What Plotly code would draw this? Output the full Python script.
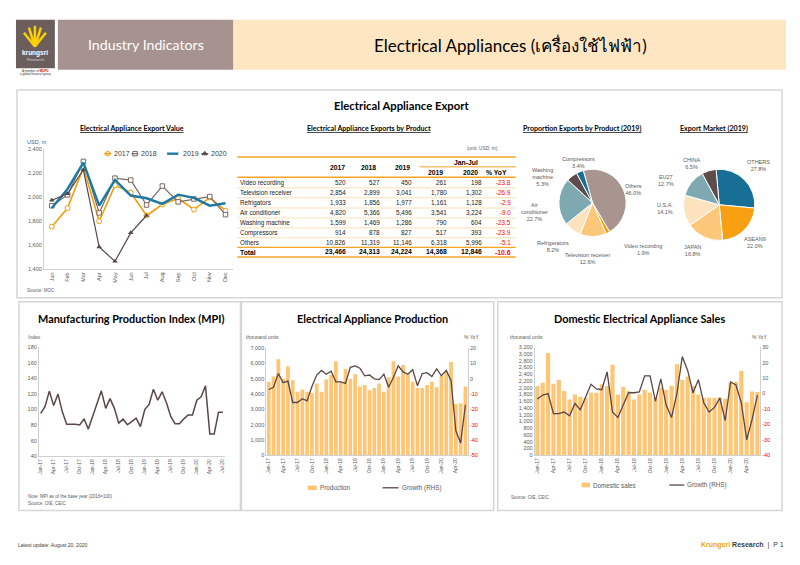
import plotly.graph_objects as go

W, H = 800, 565
def X(px): return px / W
def Y(py): return 1 - py / H

FT = "Lato"
FS = "Liberation Sans"
GT = "#595959"

# ---------------- data ----------------
exp_months = ["Jan", "Feb", "Mar", "Apr", "May", "Jun", "Jul", "Aug", "Sep", "Oct", "Nov", "Dec"]
exp_years = ["2017", "2018", "2019", "2020"]
exp_2017 = [1755, 1910, 2250, 1800, 2100, 2040, 1848, 1940, 1990, 1898, 1998, 1888]
exp_2018 = [1930, 2020, 2300, 1870, 2160, 2144, 1936, 2094, 1962, 1986, 2006, 1855]
exp_2019 = [1910, 2070, 2290, 1930, 2145, 2015, 1992, 1945, 2022, 1995, 1930, 1950]
exp_2020 = [1975, 2030, 2230, 1585, 1465, 1703, 1848, None, None, None, None, None]
exp_ticks = [1400, 1600, 1800, 2000, 2200, 2400]

tbl_products = ["Video recording", "Television receiver", "Refrigators", "Air conditioner",
                "Washing machine", "Compressors", "Others"]
tbl_2017 = [520, 2854, 1933, 4820, 1599, 914, 10826]
tbl_2018 = [527, 2899, 1856, 5366, 1469, 878, 11319]
tbl_2019 = [450, 3041, 1977, 5496, 1286, 827, 11146]
tbl_jj2019 = [261, 1780, 1161, 3541, 790, 517, 6318]
tbl_jj2020 = [198, 1302, 1128, 3224, 604, 393, 5996]
tbl_yoy = [-23.8, -26.9, -2.9, -9.0, -23.5, -23.9, -5.1]
tbl_total = [23466, 24313, 24224, 14368, 12846]
tbl_total_yoy = -10.6

share_labels = ["Others", "Video recording", "Television receiver", "Refrigerators",
                "Air conditioner", "Washing machine", "Compressors"]
share_values = [46.0, 1.9, 12.6, 8.2, 22.7, 5.3, 3.4]
market_labels = ["OTHERS", "ASEAN9", "JAPAN", "U.S.A.", "EU27", "CHINA"]
market_values = [27.8, 22.0, 16.8, 14.1, 12.7, 6.5]

months = ["Jan-17", "Feb-17", "Mar-17", "Apr-17", "May-17", "Jun-17", "Jul-17", "Aug-17", "Sep-17",
          "Oct-17", "Nov-17", "Dec-17", "Jan-18", "Feb-18", "Mar-18", "Apr-18", "May-18", "Jun-18",
          "Jul-18", "Aug-18", "Sep-18", "Oct-18", "Nov-18", "Dec-18", "Jan-19", "Feb-19", "Mar-19",
          "Apr-19", "May-19", "Jun-19", "Jul-19", "Aug-19", "Sep-19", "Oct-19", "Nov-19", "Dec-19",
          "Jan-20", "Feb-20", "Mar-20", "Apr-20", "May-20", "Jun-20", "Jul-20"]
mpi = [95, 103.6, 123.6, 105, 119.8, 97, 81, 81, 81, 80, 88, 74.8,
       91, 108.7, 124, 101.5, 114, 101.5, 82.4, 87.5, 80.3, 84.5, 88.8, 78,
       100, 106.6, 126, 112, 122.7, 108.7, 91, 81.6, 81.6, 88, 93, 93,
       112, 116.4, 130.4, 68.4, 68.4, 96.4, 96.4]
production = [4800, 5150, 6280, 5000, 5800, 4900, 4150, 4300, 4150, 4050, 4700, 4150,
              4950, 5250, 6150, 4800, 5650, 5000, 5300, 4500, 4600, 4250, 4400, 4700,
              4150, 5100, 6150, 5150, 5900, 5300, 4800, 4400, 4400, 4600, 4800, 4450,
              5200, 5500, 6100, 3350, 3400, 4500]
production_growth = [-7, -5.5, 3.5, -2.5, -1.5, -15.5, -15.5, -13, -14.5, -5, 2.5, 5.5,
                     3, 5, -2, -2, -3, 7.5, 8.5, 7, 2, 2.5, 0, -0.5,
                     3, -5.5, 1, 8.5, 4.5, 3, 6, -4.5, 3.5, 4, 1.5, 6.5,
                     2, 5.5, -1, -34, -42, -17]
sales = [2050, 2150, 3030, 2120, 2230, 1900, 1650, 1800, 1730, 1700, 1860, 1850,
         2100, 2050, 2680, 1800, 2030, 1900, 1650, 1800, 1930, 1860, 1700, 2000,
         1930, 2060, 2700, 2230, 2330, 2050, 1800, 1700, 1700, 1700, 1720, 1670,
         2150, 2180, 2500, 1570, 1890, 1870]
sales_growth = [-3.5, -1, 0, -13, -13, -12, -14.5, -6.5, -10.5, -2, 6, 3,
                2.5, 14, -12, -15.5, -8, 0.5, 0.5, 1, 11.5, 11.5, -5, 9.5,
                -7.5, -15.5, 0, 24, 15, 0.5, 9, -6, -12, -9, -3, -17.5,
                7.5, 5.5, -6, -30, -17, -1]

# ---------------- styles ----------------
C_OR = "#f59d0e"
C_BR = "#7a6663"
C_TE = "#1a7aa3"
C_DK = "#5a4646"
C_BAR = "#fdc574"

fig = go.Figure()

exp_style = {
    "2017": dict(mode="lines+markers", line=dict(color=C_OR, width=1.6),
                 marker=dict(symbol="circle", size=5, color="white", line=dict(color=C_OR, width=1))),
    "2018": dict(mode="lines+markers", line=dict(color=C_BR, width=1.2),
                 marker=dict(symbol="square", size=4.5, color="white", line=dict(color=C_BR, width=1))),
    "2019": dict(mode="lines", line=dict(color=C_TE, width=2.4), marker=dict()),
    "2020": dict(mode="lines+markers", line=dict(color=C_DK, width=1.2),
                 marker=dict(symbol="triangle-up", size=5, color=C_DK)),
}
for yr, vals in zip(exp_years, [exp_2017, exp_2018, exp_2019, exp_2020]):
    st = exp_style[yr]
    fig.add_trace(go.Scatter(x=exp_months, y=vals, mode=st["mode"], line=st["line"], marker=st["marker"],
                             xaxis="x", yaxis="y", showlegend=False, hoverinfo="x+y", name=yr))

# pies
share_colors = ["#a8958f", "#f59d0e", "#fdc77a", "#fde3bd", "#7fa9b1", "#5d4c4a", "#1b6f94"]
fig.add_trace(go.Pie(labels=share_labels, values=share_values, sort=False, direction="clockwise",
                     rotation=-16, textinfo="none", marker=dict(colors=share_colors, line=dict(color="white", width=1)),
                     domain=dict(x=[X(558), X(626)], y=[Y(236), Y(168)]), showlegend=False))
market_colors = ["#186f96", "#f7a014", "#fdc77a", "#fde3bd", "#7fa9b1", "#5d4c4a"]
fig.add_trace(go.Pie(labels=market_labels, values=market_values, sort=False, direction="clockwise",
                     rotation=-5, textinfo="none", marker=dict(colors=market_colors, line=dict(color="white", width=1)),
                     domain=dict(x=[X(683), X(755)], y=[Y(240), Y(168)]), showlegend=False))

# MPI
fig.add_trace(go.Scatter(x=months, y=mpi, mode="lines", line=dict(color=C_DK, width=1.5),
                         xaxis="x2", yaxis="y2", showlegend=False, name="MPI"))
# production
fig.add_trace(go.Bar(x=months[:len(production)], y=production, marker=dict(color=C_BAR, line=dict(width=0)),
                     xaxis="x3", yaxis="y3", showlegend=False, name="Production"))
fig.add_trace(go.Scatter(x=months[:len(production_growth)], y=production_growth, mode="lines",
                         line=dict(color=C_DK, width=1.3), xaxis="x3", yaxis="y4", showlegend=False,
                         name="Growth (RHS)"))
# sales
fig.add_trace(go.Bar(x=months[:len(sales)], y=sales, marker=dict(color=C_BAR, line=dict(width=0)),
                     xaxis="x4", yaxis="y5", showlegend=False, name="Domestic sales"))
fig.add_trace(go.Scatter(x=months[:len(sales_growth)], y=sales_growth, mode="lines",
                         line=dict(color=C_DK, width=1.3), xaxis="x4", yaxis="y6", showlegend=False,
                         name="Growth (RHS)"))

# legend symbols on a pixel overlay axis
leg_pts = [(106, 152.3, "circle", "white", C_OR), (133.3, 152.3, "square", "white", C_BR),
           (203.3, 152.3, "triangle-up", C_DK, C_DK)]
for (lx, ly, sym, fc, lc) in leg_pts:
    fig.add_trace(go.Scatter(x=[lx], y=[ly], mode="markers", xaxis="x5", yaxis="y7", showlegend=False,
                             hoverinfo="skip", marker=dict(symbol=sym, size=4.5, color=fc, line=dict(color=lc, width=1))))

# ---------------- axes ----------------
ax_common = dict(showgrid=False, zeroline=False, showline=True, linecolor="#d0d0d0", linewidth=1,
                 tickfont=dict(family=FS, size=5.5, color=GT), ticks="", fixedrange=True)

def red_ticks(vals):
    return [f'<span style="color:#ff0000">{v}</span>' if v < 0 else str(v) for v in vals]

prod_rhs = [20, 10, 0, -10, -20, -30, -40, -50]
sales_rhs = [30, 20, 10, 0, -10, -20, -30, -40]

layout_axes = dict(
    xaxis=dict(ax_common, domain=[X(42), X(232)], anchor="y", type="category", tickangle=-90,
               range=[-0.5, 11.5]),
    yaxis=dict(ax_common, domain=[Y(269), Y(148)], anchor="x", range=[1400, 2400], tickvals=exp_ticks,
               tickformat=","),
    xaxis2=dict(ax_common, domain=[X(37), X(224)], anchor="y2", type="category", tickangle=-90,
                range=[-0.4, 42.6], tickvals=months[::3], tickfont=dict(family=FS, size=5, color=GT)),
    yaxis2=dict(ax_common, domain=[Y(458), Y(348)], anchor="x2", range=[40, 180], dtick=20),
    xaxis3=dict(ax_common, domain=[X(265), X(467)], anchor="y3", type="category", tickangle=-90,
                range=[-0.5, len(production) - 0.5], tickvals=months[:len(production):3],
                tickfont=dict(family=FS, size=5, color=GT)),
    yaxis3=dict(ax_common, domain=[Y(457), Y(349)], anchor="x3", range=[0, 7000], dtick=1000, tickformat=","),
    yaxis4=dict(ax_common, overlaying="y3", side="right", anchor="x3", range=[-50, 20],
                tickvals=prod_rhs, ticktext=red_ticks(prod_rhs)),
    xaxis4=dict(ax_common, domain=[X(534), X(760)], anchor="y5", type="category", tickangle=-90,
                range=[-0.5, len(sales) - 0.5], tickvals=months[:len(sales):3],
                tickfont=dict(family=FS, size=5, color=GT)),
    yaxis5=dict(ax_common, domain=[Y(457), Y(348)], anchor="x4", range=[0, 3200], dtick=200, tickformat=","),
    yaxis6=dict(ax_common, overlaying="y5", side="right", anchor="x4", range=[-40, 30],
                tickvals=sales_rhs, ticktext=red_ticks(sales_rhs)),
    xaxis5=dict(domain=[0, 1], anchor="y7", range=[0, W], visible=False, fixedrange=True),
    yaxis7=dict(domain=[0, 1], anchor="x5", range=[H, 0], visible=False, fixedrange=True),
)

# ---------------- shapes & annotations ----------------
shapes = []
ann = []

def rect(x0, y0, x1, y1, fill=None, line=None, lw=0, layer="below"):
    shapes.append(dict(type="rect", xref="paper", yref="paper", x0=X(x0), x1=X(x1), y0=Y(y1), y1=Y(y0),
                       fillcolor=fill if fill else "rgba(0,0,0,0)",
                       line=dict(color=line if line else "rgba(0,0,0,0)", width=lw), layer=layer))

def hline(x0, x1, y, color, w=1):
    shapes.append(dict(type="line", xref="paper", yref="paper", x0=X(x0), x1=X(x1), y0=Y(y), y1=Y(y),
                       line=dict(color=color, width=w)))

def seg(x0, y0, x1, y1, color, w=1):
    shapes.append(dict(type="line", xref="paper", yref="paper", x0=X(x0), x1=X(x1), y0=Y(y0), y1=Y(y1),
                       line=dict(color=color, width=w)))

def txt(t, x, y, size, color="#000000", family=FS, xa="center", ya="middle"):
    ann.append(dict(text=t, x=X(x), y=Y(y), xref="paper", yref="paper", showarrow=False,
                    xanchor=xa, yanchor=ya, font=dict(family=family, size=size, color=color)))

# header
rect(14, 17, 53, 66, fill="#6d5e5e")
for (a, b) in [((33, 44), (22, 30)), ((33, 44), (27, 25)), ((33, 44), (33, 23)), ((33, 44), (39, 25)), ((33, 44), (44, 30))]:
    seg(a[0], a[1], b[0], b[1], "#ffd000", 2.5)
txt("<b>krungsri</b>", 33.5, 51, 6.5, "white", FS)
txt("Research", 33.5, 57.5, 4, "#d8d0d0", FS)
txt("A member of <b><span style='color:#d00000'>MUFG</span></b>", 33.5, 69, 3, "#333333", FS)
txt("a global financial group", 33.5, 72, 3, "#333333", FS)
rect(56, 17, 232, 67.5, fill="#a69390")
rect(232, 17, 786, 67.5, fill="#ffe6c2")
txt("Industry Indicators", 144, 42, 14.2, "white", FT)
txt("Electrical Appliances (เครื่องใช้ไฟฟ้า)", 510, 42, 17, "#000000", FT)

# panels
rect(15, 88, 782, 298, line="#d6d6d6", lw=1.5)
rect(17, 302, 239, 513, line="#d6d6d6", lw=1.5)
rect(240, 302, 493, 513, line="#d6d6d6", lw=1.5)
rect(497, 302, 782, 513, line="#d6d6d6", lw=1.5)

txt("<b>Electrical Appliance Export</b>", 400, 104, 11.3, "#000000", FT)
txt("<b><u>Electrical Appliance Export Value</u></b>", 130, 127, 7.1, "#000000", FT)
txt("<b><u>Electrical Appliance Exports by Product</u></b>", 368, 127, 7.1, "#000000", FT)
txt("<b><u>Proportion Exports by Product (2019)</u></b>", 581, 127, 7.1, "#000000", FT)
txt("<b><u>Export Market (2019)</u></b>", 714, 127, 7.1, "#000000", FT)

# export value chart texts
txt("USD, m", 23, 140, 5.5, GT, FS, xa="left")
txt("Source: MOC", 23, 291, 4.5, GT, FS, xa="left")
seg(102.5, 152.3, 109.5, 152.3, C_OR, 1.6)
seg(129.8, 152.3, 136.8, 152.3, C_BR, 1.2)
seg(165.5, 152.3, 176.8, 152.3, C_TE, 2.4)
seg(199.8, 152.3, 206.8, 152.3, C_DK, 1.2)
for lx, yr in zip([110.5, 137.7, 179, 208], exp_years):
    txt(yr, lx, 152.3, 7, "#404040", FS, xa="left")

# table
ORL = "#f7a325"
LOR = "#fde0b3"
TX0, TX1 = 236, 515
txt("(unit: USD, m)", 499, 147, 4.8, GT, FS, xa="right")
hline(TX0, TX1, 155.7, ORL, 1.5)
txt("<b>2017</b>", 336, 166, 6.8, "#000000", FS)
txt("<b>2018</b>", 367.5, 166, 6.8, "#000000", FS)
txt("<b>2019</b>", 401.7, 166, 6.8, "#000000", FS)
txt("<b>Jan-Jul</b>", 465.5, 161, 6.8, "#000000", FS)
hline(418.5, TX1, 165.6, ORL, 1)
txt("<b>2019</b>", 435, 171.5, 6.8, "#000000", FS)
txt("<b>2020</b>", 469.5, 171.5, 6.8, "#000000", FS)
txt("<b>% YoY</b>", 496, 171.5, 6.8, "#000000", FS)
hline(TX0, TX1, 176, ORL, 1.5)
row_y = [181.7, 191.8, 202.1, 212.2, 222.2, 232.2, 242.0]
col_r = [346.7, 380.7, 413.3, 448.3, 483.3, 512.7]
for i, prod in enumerate(tbl_products):
    yy = row_y[i]
    txt(prod, 237, yy, 6.3, "#202020", FS, xa="left")
    vals = [tbl_2017[i], tbl_2018[i], tbl_2019[i], tbl_jj2019[i], tbl_jj2020[i]]
    for cx, v in zip(col_r[:5], vals):
        txt(f"{v:,}", cx, yy, 6.3, "#202020", FS, xa="right")
    txt(f"{tbl_yoy[i]:.1f}", col_r[5], yy, 6.3, "#ff0000", FS, xa="right")
    if i < len(tbl_products) - 1:
        hline(TX0, TX1, yy + 5.1, LOR, 1)
hline(TX0, TX1, 246.9, ORL, 1.2)
txt("<b>Total</b>", 237, 251.8, 6.8, "#000000", FS, xa="left")
for cx, v in zip(col_r[:5], tbl_total):
    txt(f"<b>{v:,}</b>", cx, 251.8, 6.8, "#000000", FS, xa="right")
txt(f"<b>{tbl_total_yoy:.1f}</b>", col_r[5], 251.8, 6.8, "#ff0000", FS, xa="right")
hline(TX0, TX1, 256.8, ORL, 1.5)

# pie labels
share_pos = {"Compressors": (578, 152.7), "Washing machine": (542, 164), "Air conditioner": (533.5, 199),
             "Refrigerators": (552, 238), "Television receiver": (587, 249.5), "Video recording": (643, 241),
             "Others": (633, 180)}
share_txt = {"Washing machine": "Washing<br>machine", "Air conditioner": "Air<br>conditioner"}
for lab, v in zip(share_labels, share_values):
    px, py = share_pos[lab]
    t = share_txt.get(lab, lab)
    txt(f"{t}<br>{v:.1f}%", px, py, 5.5, GT, FS, ya="top")
market_pos = {"CHINA": (691, 154), "OTHERS": (758, 156), "EU27": (666, 171), "U.S.A.": (665, 199),
              "JAPAN": (692, 242), "ASEAN9": (755, 233.5)}
for lab, v in zip(market_labels, market_values):
    px, py = market_pos[lab]
    txt(f"{lab}<br>{v:.1f}%", px, py, 5.5, GT, FS, ya="top")

# bottom charts
txt("<b>Manufacturing Production Index (MPI)</b>", 129, 319, 10.9, "#000000", FT)
txt("<b>Electrical Appliance Production</b>", 371, 319, 10.9, "#000000", FT)
txt("<b>Domestic Electrical Appliance Sales</b>", 639, 319, 10.9, "#000000", FT)
txt("Index", 24, 338, 5, GT, FS, xa="left")
txt("Note: MPI as of the base year (2016=100)", 24, 498.5, 4.5, GT, FS, xa="left")
txt("Source: OIE, CEIC", 24, 505.5, 4.5, GT, FS, xa="left")
txt("thousand units", 243, 338, 5, GT, FS, xa="left")
txt("% YoY", 480, 338, 5, GT, FS, xa="right")
txt("thousand units", 507.5, 338, 5, GT, FS, xa="left")
txt("% YoY", 769, 338, 5, GT, FS, xa="right")
# legends
rect(306.5, 487.7, 315.5, 492.3, fill=C_BAR, layer="above")
txt("Production", 316.7, 490, 6.3, GT, FS, xa="left")
seg(381.5, 490, 397.5, 490, C_DK, 1.3)
txt("Growth (RHS)", 398.5, 490, 6.3, GT, FS, xa="left")
rect(581, 484.8, 589.5, 489.5, fill=C_BAR, layer="above")
txt("Domestic sales", 590.8, 487.2, 6.3, GT, FS, xa="left")
seg(669, 487.2, 684, 487.2, C_DK, 1.3)
txt("Growth (RHS)", 685, 487.2, 6.3, GT, FS, xa="left")
txt("Source: OIE, CEIC", 508, 500, 4.5, GT, FS, xa="left")

# footer
txt("Latest update: August 20, 2020", 14, 548, 5, "#404040", FS, xa="left")
txt("<b><span style='color:#f0a800'>Krungsri</span> Research</b>  |  P 1", 786, 548, 7, "#404040", FS, xa="right")

fig.update_layout(
    width=W, height=H, autosize=False, margin=dict(l=0, r=0, t=0, b=0),
    paper_bgcolor="white", plot_bgcolor="rgba(0,0,0,0)",
    showlegend=False, bargap=0.22,
    shapes=shapes, annotations=ann, **layout_axes,
)

fig.write_html("out.html", config={"displayModeBar": False, "staticPlot": True},
               post_script="document.body.style.margin='0';document.body.style.padding='0';"
                           "document.documentElement.style.overflow='hidden';")
